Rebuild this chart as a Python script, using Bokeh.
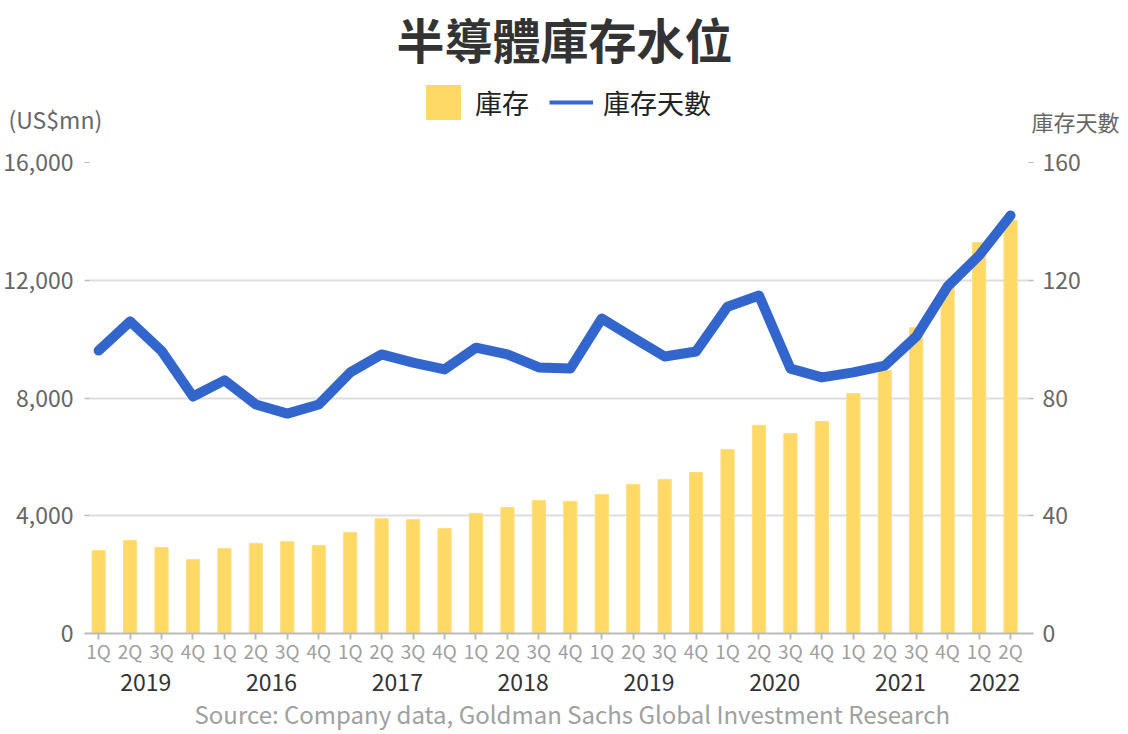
from bokeh.plotting import figure
from bokeh.layouts import column, row
from bokeh.models import (Range1d, LinearAxis, FixedTicker, Label, Legend, LegendItem,
                          ColumnDataSource, NumeralTickFormatter, Title)
from bokeh.embed import file_html
from bokeh.resources import INLINE

# ---- data ----
quarters = ["1Q", "2Q", "3Q", "4Q"] * 7 + ["1Q", "2Q"]
year_labels = ["2019", "2016", "2017", "2018", "2019", "2020", "2021", "2022"]
year_counts = [4, 4, 4, 4, 4, 4, 4, 2]
inventory = [2820, 3160, 2920, 2510, 2890, 3060, 3120, 2990, 3430, 3900,
             3870, 3570, 4080, 4280, 4520, 4490, 4720, 5060, 5230, 5470,
             6250, 7070, 6790, 7200, 8150, 8930, 10390, 11750, 13280, 14030]
inventory_days = [96.1, 106, 96, 80.5, 86, 77.8, 74.7, 77.8, 88.7, 94.8,
                  92, 89.7, 97.1, 94.8, 90.4, 90, 107, 100.5, 94.1, 95.8,
                  111, 114.8, 90, 87, 88.7, 91, 100.9, 117.9, 128.4, 142]
left_ticks = [0, 4000, 8000, 12000, 16000]
right_ticks = [0, 40, 80, 120, 160]

FONT = "Noto Sans CJK TC"
BAR_COLOR = "#FFD966"
LINE_COLOR = "#3366CC"
TICK_COLOR = "#666666"
W, H = 1128, 734
HEAD_H = 134

xs = list(range(len(quarters)))
src = ColumnDataSource(dict(x=xs, inv=inventory, days=inventory_days))

centers = []
start = 0
for c in year_counts:
    centers.append(start + (c - 1) / 2)
    start += c

# ================= header (title, legend, axis names) =================
head = figure(width=W, height=HEAD_H, output_backend="svg", toolbar_location=None,
              x_range=Range1d(0, W), y_range=Range1d(HEAD_H, 0),
              x_axis_type=None, y_axis_type=None, min_border=0)
head.outline_line_color = None
head.xgrid.visible = False
head.ygrid.visible = False

# legend swatches only (placed outside the visible range)
dummy_bar = head.vbar(x=[-500], top=[-500], bottom=[-600], width=1,
                      fill_color=BAR_COLOR, line_color=None)
dummy_line = head.line(x=[-600, -500], y=[-500, -500], line_color=LINE_COLOR,
                       line_width=4)

legend = Legend(items=[LegendItem(label="庫存", renderers=[dummy_bar]),
                       LegendItem(label="庫存天數", renderers=[dummy_line])],
                location=(421, HEAD_H - 124), orientation="horizontal",
                glyph_width=44, glyph_height=44, label_standoff=10, spacing=20,
                padding=0, margin=0, border_line_color=None,
                background_fill_alpha=0, label_text_font=FONT,
                label_text_font_size="27px", label_text_color="#222222",
                label_height=44)
head.add_layout(legend)


def head_text(cx, cy, text, size, color, align="center", bold=False):
    head.add_layout(Label(x=cx, y=cy, text=text, text_font=FONT, text_font_size=size,
                          text_color=color, text_align=align, text_baseline="middle",
                          text_font_style="bold" if bold else "normal"))


head_text(564, 37, "半導體庫存水位", "48px", "#333333", bold=True)
head_text(8, 118, "(US$mn)", "23px", TICK_COLOR, align="left")
head_text(1119, 120, "庫存天數", "22px", TICK_COLOR, align="right")

# ================= main chart =================
p = figure(width=W, height=H - HEAD_H, output_backend="svg", toolbar_location=None,
           x_range=Range1d(-0.45, 29.73), y_range=Range1d(0, 16000),
           min_border_left=83, min_border_right=95, min_border_top=162 - HEAD_H,
           min_border_bottom=101)
p.outline_line_color = None
p.extra_y_ranges = {"days": Range1d(0, 160)}

p.vbar(x="x", top="inv", width=0.42, source=src,
       fill_color=BAR_COLOR, line_color="#FFDF80", line_width=1)
p.line(x="x", y="days", y_range_name="days", source=src,
       line_color=LINE_COLOR, line_width=10, line_join="round", line_cap="round")

yl = p.yaxis[0]
yl.ticker = FixedTicker(ticks=left_ticks)
yl.formatter = NumeralTickFormatter(format="0,0")
yl.axis_line_color = None
yl.major_tick_in = 5
yl.major_tick_out = 0
yl.major_tick_line_color = "#bbbbbb"
yl.minor_tick_line_color = None
yl.major_label_standoff = 11
yl.major_label_text_font = FONT
yl.major_label_text_font_size = "23px"
yl.major_label_text_color = TICK_COLOR

yr = LinearAxis(y_range_name="days", ticker=FixedTicker(ticks=right_ticks))
yr.axis_line_color = None
yr.major_tick_in = 5
yr.major_tick_out = 0
yr.major_tick_line_color = "#bbbbbb"
yr.minor_tick_line_color = None
yr.major_label_standoff = 9
yr.major_label_text_font = FONT
yr.major_label_text_font_size = "23px"
yr.major_label_text_color = TICK_COLOR
p.add_layout(yr, "right")

xq = p.xaxis[0]
xq.ticker = FixedTicker(ticks=xs)
xq.major_label_overrides = {i: q for i, q in zip(xs, quarters)}
xq.axis_line_color = "#bbbbbb"
xq.axis_line_width = 2
xq.major_tick_line_color = "#bbbbbb"
xq.major_tick_line_width = 2
xq.major_tick_in = 0
xq.major_tick_out = 6
xq.minor_tick_line_color = None
xq.major_label_standoff = -3
xq.major_label_text_font = FONT
xq.major_label_text_font_size = "19px"
xq.major_label_text_color = "#a0a0a0"

xy = LinearAxis(ticker=FixedTicker(ticks=centers))
xy.major_label_overrides = {c: y for c, y in zip(centers, year_labels)}
xy.axis_line_color = None
xy.major_tick_line_color = None
xy.minor_tick_line_color = None
xy.major_label_standoff = 1
xy.major_label_text_font = FONT
xy.major_label_text_font_size = "23px"
xy.major_label_text_color = "#333333"
p.add_layout(xy, "below")

p.add_layout(Title(text="Source: Company data, Goldman Sachs Global Investment Research",
                   align="left", text_font=FONT, text_font_size="24px",
                   text_font_style="normal", text_color="#a0a0a0", standoff=0,
                   offset=110), "below")

p.xgrid.visible = False
p.ygrid.ticker = FixedTicker(ticks=left_ticks)
p.ygrid.grid_line_color = "#dddddd"
p.ygrid.grid_line_width = 2

layout = column(row(head), p, spacing=0)
open("out.html", "w").write(file_html(layout, INLINE))
